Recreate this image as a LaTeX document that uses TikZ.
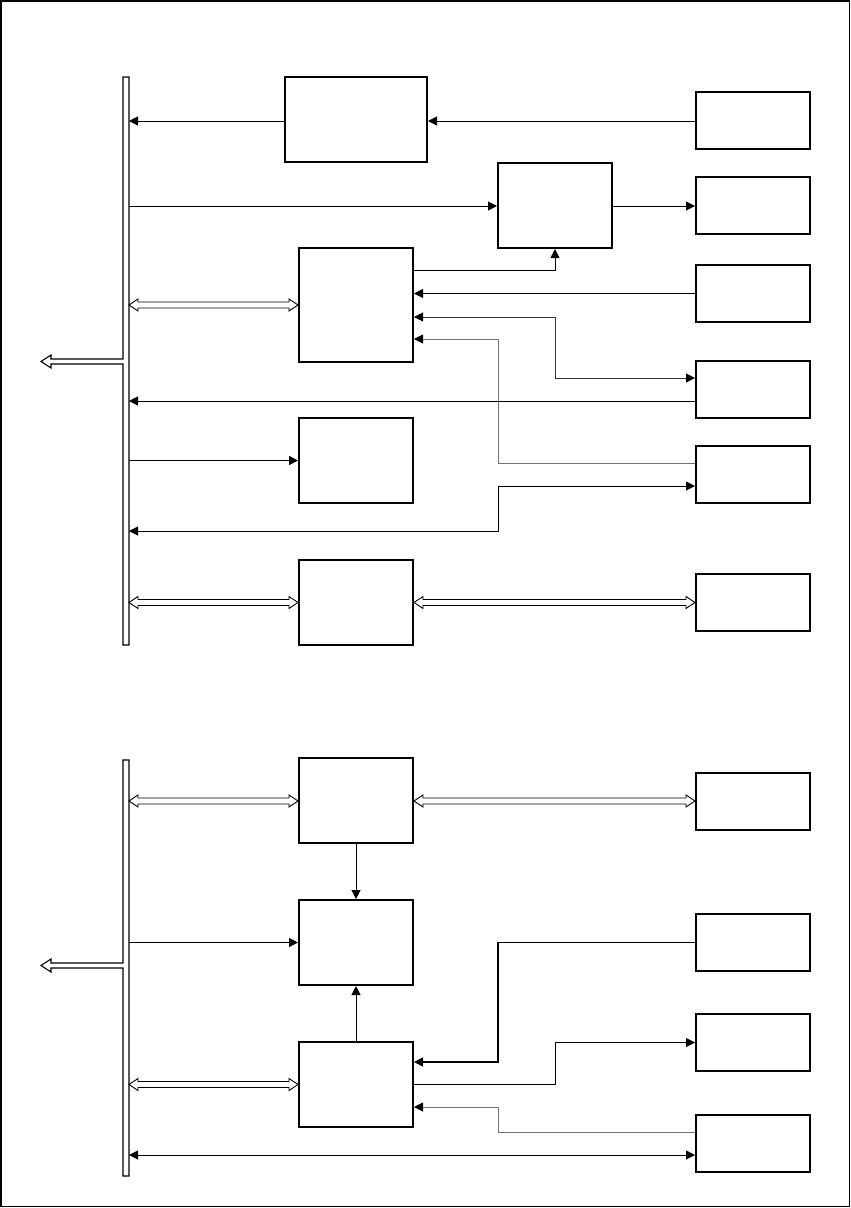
\documentclass[tikz,border=0pt]{standalone}
\usetikzlibrary{arrows.meta,calc}
\tikzset{
  box/.style={draw, line width=2pt, inner sep=0pt, minimum width=114pt},
  rbox/.style={box, minimum height=57pt},
  conn/.style={line width=1pt, -{Triangle[length=9pt,width=9pt,color=black]}},
  conn2/.style={line width=1pt, {Triangle[length=9pt,width=9pt,color=black]}-{Triangle[length=9pt,width=9pt,color=black]}},
  dblout/.style={draw, line width=0.9pt, fill=white},
  busline/.style={draw, line width=1.1pt, fill=white},
}
\newcommand\hdbl[2]{%
  \path[dblout] let \p1=#1, \p2=#2 in
    (\x1,\y1) -- (\x1+9pt,\y1+6pt) -- (\x1+9pt,\y1+3pt) -- (\x2-9pt,\y1+3pt)
    -- (\x2-9pt,\y1+6pt) -- (\x2,\y1) -- (\x2-9pt,\y1-6pt) -- (\x2-9pt,\y1-3pt)
    -- (\x1+9pt,\y1-3pt) -- (\x1+9pt,\y1-6pt) -- cycle;}
\begin{document}
\begin{tikzpicture}[x=1pt,y=-1pt]
\useasboundingbox (0,0) rectangle (851,1208);
\draw[line width=1.6pt] (1,1) rectangle (849.5,1206.5);

% ---------- top section ----------
\path[busline] (129,77) -- (129,645) -- (123,645) -- (123,364) -- (51,364) -- (51,368)
  -- (41,361.5) -- (51,355) -- (51,359) -- (123,359) -- (123,77) -- cycle;
\coordinate (b1) at (129,77);

\node[box, minimum width=142pt, minimum height=85pt] (A) at (356,119.5) {};
\node[box, minimum height=85pt] (B) at (555,205.5) {};
\node[box, minimum height=114pt] (C) at (356,305) {};
\node[box, minimum height=85pt] (D) at (356,460.5) {};
\node[box, minimum height=85pt] (E) at (356,602.5) {};
\node[rbox] (R1) at (753,120.5) {};
\node[rbox] (R2) at (753,205.5) {};
\node[rbox] (R3) at (753,293.5) {};
\node[rbox] (R4) at (753,389.5) {};
\node[rbox] (R5) at (753,474.5) {};
\node[rbox] (R6) at (753,602.5) {};

\draw[conn] (A.west |- 0,121) -- (b1 |- 0,121);
\draw[conn] (R1.west |- 0,121) -- (A.east |- 0,121);
\draw[conn] (b1 |- 0,206) -- (B.west |- 0,206);
\draw[conn] (B.east |- 0,206) -- (R2.west |- 0,206);
\draw[conn] (C.east |- 0,270) -| (B.south);
\draw[conn] (R3.west) -- (R3.west -| C.east);
\draw[conn2, draw=black!80] (C.east |- 0,317) -- (555,317) |- (R4.west |- 0,378);
\draw[conn, draw=black!55] (R5.west |- 0,463) -| (498,339) -- (C.east |- 0,339);
\draw[conn] (R4.west |- 0,401) -- (b1 |- 0,401);
\draw[conn, line width=1.5pt] (b1 |- D.west) -- (D.west);
\draw[conn2] (b1 |- 0,531) -| (498,486) -- (R5.west |- 0,486);
\hdbl{(b1 |- C.west)}{(C.west)}
\hdbl{(b1 |- E.west)}{(E.west)}
\hdbl{(E.east)}{(R6.west |- E.east)}

% ---------- bottom section ----------
\path[busline] (129,760) -- (129,1176) -- (123,1176) -- (123,968) -- (51,968) -- (51,972)
  -- (41,965.5) -- (51,959) -- (51,963) -- (123,963) -- (123,760) -- cycle;
\coordinate (b2) at (129,760);

\node[box, minimum height=85pt] (F) at (356,800.5) {};
\node[box, minimum height=85pt] (G) at (356,942.5) {};
\node[box, minimum height=85pt] (H) at (356,1084.5) {};
\node[rbox] (S1) at (753,801.5) {};
\node[rbox] (S2) at (753,942.5) {};
\node[rbox] (S3) at (753,1042.5) {};
\node[rbox] (S4) at (753,1143.5) {};

\hdbl{(b2 |- 0,801)}{(F.west |- 0,801)}
\hdbl{(F.east |- 0,801)}{(S1.west |- 0,801)}
\draw[conn] (F.south) -- (G.north);
\draw[conn] (H.north) -- (G.south);
\draw[conn] (b2 |- G.west) -- (G.west);
\draw[conn, line width=1.5pt] (S2.west) -| (498,1062) -- (H.east |- 0,1062);
\draw[conn] (H.east) -- (555,1084.5) |- (S3.west);
\draw[conn, draw=black!55] (S4.west |- 0,1132) -| (498,1107) -- (H.east |- 0,1107);
\draw[conn2] (b2 |- 0,1155) -- (S4.west |- 0,1155);
\hdbl{(b2 |- H.west)}{(H.west)}
\end{tikzpicture}
\end{document}
